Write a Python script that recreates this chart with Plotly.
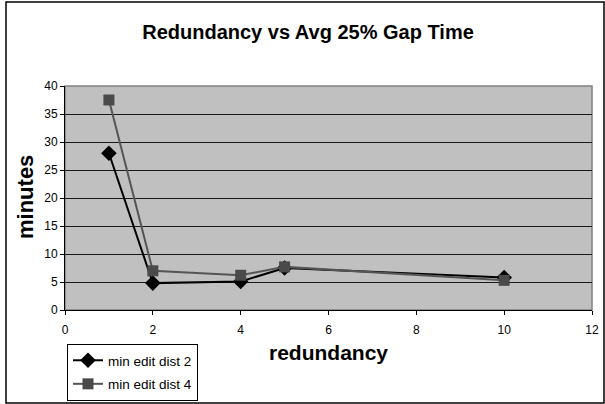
import plotly.graph_objects as go

redundancy = [1, 2, 4, 5, 10]
dist2 = [28.0, 4.8, 5.1, 7.5, 5.8]
dist4 = [37.5, 7.0, 6.2, 7.7, 5.3]
series_names = ["min edit dist 2", "min edit dist 4"]
x_ticks = [0, 2, 4, 6, 8, 10, 12]
y_ticks = [0, 5, 10, 15, 20, 25, 30, 35, 40]

W, H = 605, 404
L, R, T, B = 65, 13, 86, 94
pw, ph = W - L - R, H - T - B
FONT = "Arial, 'Liberation Sans', sans-serif"

fig = go.Figure()
fig.add_trace(go.Scatter(x=redundancy, y=dist2, name=series_names[0], mode="lines+markers",
                         legendgroup="a",
                         line=dict(color="#000000", width=2),
                         marker=dict(symbol="diamond", size=12, color="#000000")))
fig.add_trace(go.Scatter(x=redundancy, y=dist4, name=series_names[1], mode="lines+markers",
                         legendgroup="b",
                         line=dict(color="#555555", width=2),
                         marker=dict(symbol="square", size=11, color="#4a4a4a")))

def px_x(p):
    return (p - L) / pw

def px_y(p):
    return (H - B - p) / ph

fig.update_layout(
    width=W, height=H,
    margin=dict(l=L, r=R, t=T, b=B, autoexpand=False),
    paper_bgcolor="white",
    plot_bgcolor="#C0C0C0",
    font=dict(family=FONT, color="black", size=12),
    title=dict(text="<b>Redundancy vs Avg 25% Gap Time</b>", x=308 / W, xanchor="center",
               y=1 - 32 / H, yanchor="middle", yref="container",
               font=dict(size=20, family=FONT)),
    xaxis=dict(range=[0, 12], tickvals=x_ticks, showgrid=False, zeroline=False,
               showline=True, linecolor="black", linewidth=1, ticks="outside", ticklen=4,
               tickcolor="black", mirror=False, ticklabelstandoff=5, automargin=False,
               title=dict(text="<b>redundancy</b>", standoff=8, font=dict(size=21))),
    yaxis=dict(range=[0, 40], tickvals=y_ticks, showgrid=True, gridcolor="#1a1a1a", gridwidth=1,
               zeroline=False, showline=True, linecolor="black", linewidth=1,
               ticks="outside", ticklen=4, tickcolor="black", automargin=False),
    legend=dict(x=67 / W, y=1 - 344 / H, xref="container", yref="container",
                xanchor="left", yanchor="top",
                bordercolor="black", borderwidth=1, bgcolor="white",
                font=dict(size=13.5), tracegroupgap=3, traceorder="grouped", itemwidth=30),
    showlegend=True,
)

fig.add_annotation(text="<b>minutes</b>", xref="paper", yref="paper",
                   x=px_x(25), y=px_y(197), xanchor="center", yanchor="middle",
                   textangle=-90, showarrow=False, font=dict(size=22, family=FONT))

# plot area border (top/right gray)
fig.add_shape(type="rect", xref="paper", yref="paper", x0=0, y0=0, x1=1, y1=1,
              line=dict(color="#808080", width=1.5), layer="below")
# outer chart frame
fig.add_shape(type="rect", xref="paper", yref="paper",
              x0=px_x(6), x1=px_x(604), y0=px_y(403), y1=px_y(2),
              line=dict(color="black", width=1.5))

fig.write_html("out.html")
